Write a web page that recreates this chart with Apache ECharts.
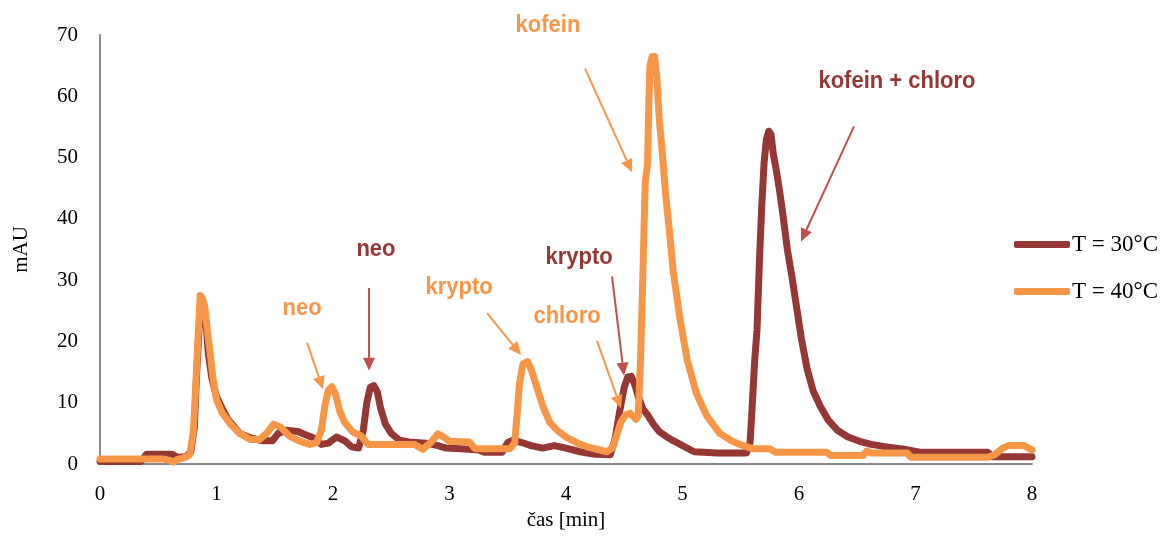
<!DOCTYPE html>
<html>
<head>
<meta charset="utf-8">
<script src="https://cdn.jsdelivr.net/npm/echarts@6/dist/echarts.min.js"></script>
<style>
  html, body { margin: 0; padding: 0; background: #fff; }
  #chart { width: 1165px; height: 536px; }
</style>
</head>
<body>
<div id="chart"></div>
<script>
// Chromatogram traces: time [min] and absorbance [mAU]
const time30 = [0, 0.35, 0.4, 0.62, 0.66, 0.74, 0.78, 0.81, 0.83, 0.85, 0.87, 0.89, 0.91, 0.93, 0.96, 1.0, 1.05, 1.1, 1.2, 1.3, 1.4, 1.48, 1.53, 1.6, 1.7, 1.76, 1.84, 1.9, 1.96, 2.03, 2.1, 2.16, 2.22, 2.26, 2.29, 2.32, 2.35, 2.38, 2.41, 2.45, 2.5, 2.57, 2.65, 2.8, 2.9, 2.97, 3.1, 3.25, 3.3, 3.45, 3.5, 3.55, 3.62, 3.7, 3.8, 3.9, 4.0, 4.12, 4.25, 4.38, 4.42, 4.46, 4.5, 4.53, 4.56, 4.59, 4.62, 4.66, 4.7, 4.75, 4.8, 4.86, 4.92, 5.0, 5.1, 5.3, 5.55, 5.58, 5.6, 5.62, 5.64, 5.66, 5.68, 5.7, 5.72, 5.74, 5.76, 5.78, 5.8, 5.83, 5.86, 5.9, 5.94, 5.98, 6.02, 6.07, 6.12, 6.18, 6.25, 6.33, 6.42, 6.52, 6.62, 6.75, 6.9, 7.05, 7.3, 7.62, 7.66, 8.0];
const mau30 = [0.4, 0.4, 1.6, 1.6, 1.1, 1.2, 2.0, 6, 15, 22, 26.5, 26, 23, 18, 14, 11, 9, 7.2, 5, 4.2, 3.8, 3.8, 5, 5.5, 5.3, 4.8, 4.2, 3.2, 3.4, 4.4, 3.8, 2.8, 2.6, 5.5, 10, 12.5, 12.8, 11.8, 9, 6.5, 5, 3.9, 3.6, 3.4, 3.0, 2.6, 2.5, 2.3, 1.9, 1.9, 3.5, 3.9, 3.5, 3.0, 2.6, 3.0, 2.6, 2.0, 1.6, 1.5, 4, 8.5, 12.5, 14.2, 14.3, 13, 11, 9, 8, 6.5, 5.3, 4.5, 3.8, 3.0, 2.0, 1.8, 1.8, 3.5, 10, 17, 22, 33, 42, 49, 53, 54.3, 53.8, 50.5, 48.5, 45, 41, 35, 30.5, 25.5, 20.5, 15.5, 12, 9.5, 7.2, 5.5, 4.4, 3.7, 3.2, 2.8, 2.4, 1.9, 1.9, 1.9, 1.2, 1.2];

const time40 = [0, 0.55, 0.6, 0.63, 0.66, 0.72, 0.77, 0.8, 0.82, 0.84, 0.86, 0.88, 0.9, 0.92, 0.94, 0.97, 1.0, 1.05, 1.12, 1.2, 1.29, 1.37, 1.43, 1.49, 1.55, 1.63, 1.72, 1.8, 1.86, 1.9, 1.93, 1.96, 1.99, 2.02, 2.06, 2.1, 2.17, 2.24, 2.3, 2.7, 2.77, 2.84, 2.9, 2.95, 3.0, 3.17, 3.22, 3.52, 3.56, 3.58, 3.6, 3.63, 3.67, 3.7, 3.75, 3.8, 3.86, 3.93, 4.0, 4.1, 4.18, 4.35, 4.4, 4.43, 4.47, 4.51, 4.55, 4.6, 4.62, 4.64, 4.66, 4.68, 4.7, 4.71, 4.72, 4.74, 4.76, 4.78, 4.8, 4.83, 4.86, 4.88, 4.92, 4.98, 5.04, 5.12, 5.21, 5.32, 5.42, 5.49, 5.6, 5.75, 5.8, 6.24, 6.27, 6.55, 6.58, 6.62, 6.93, 6.96, 7.62, 7.68, 7.75, 7.8, 7.93, 8.0];
const mau40 = [0.8, 0.8, 0.6, 0.3, 0.7, 1.0, 1.5, 5, 12, 20, 27.5, 27, 25.5, 22, 19, 14, 10.5, 8.3, 6.5, 5, 4, 4, 5, 6.5, 6, 4.5, 3.7, 3.2, 3.5, 5.5, 9.5, 12, 12.6, 11.5, 8.5, 6.8, 5.2, 4.6, 3.2, 3.2, 2.4, 3.5, 4.9, 4.4, 3.7, 3.6, 2.5, 2.5, 3.5, 8, 13, 16.3, 16.7, 15.5, 12.5, 9.5, 6.8, 5.4, 4.4, 3.4, 2.8, 2.0, 2.6, 4.4, 6.8, 8.0, 8.3, 7.3, 7.8, 17, 31, 46, 49, 58, 65, 66.5, 66.5, 63, 56.5, 50, 43, 39.5, 31.5, 23.5, 17, 11.5, 7.8, 5, 3.8, 3.2, 2.5, 2.5, 1.9, 1.9, 1.4, 1.4, 2.1, 1.8, 1.8, 1.1, 1.1, 1.5, 2.6, 3.0, 3.0, 2.3];

const seriesNames = ['T = 30°C', 'T = 40°C'];
const xTicks = [0, 1, 2, 3, 4, 5, 6, 7, 8];
const yTicks = [0, 10, 20, 30, 40, 50, 60, 70];

// Peak labels: text anchor and arrow (start -> tip), all in data units
const peakNames = ['kofein', 'kofein + chloro', 'neo', 'neo', 'krypto', 'chloro', 'krypto'];
const peakSeries = [1, 0, 0, 1, 1, 1, 0];
const labelAt = [[3.845, 71.6], [6.841, 62.4], [2.369, 35.0], [1.734, 25.4], [3.082, 28.8], [4.009, 24.1], [4.112, 33.7]];
const arrowFrom = [[4.163, 64.5], [6.472, 55.1], [2.309, 28.7], [1.777, 19.8], [3.322, 24.6], [4.266, 20.1], [4.395, 30.6]];
const arrowTo = [[4.567, 47.6], [6.017, 36.3], [2.309, 15.2], [1.914, 12.2], [3.614, 17.8], [4.472, 9.1], [4.498, 14.4]];

const DARK = '#953735';
const ORANGE = '#F79646';
const ARROW_RED = '#C0504D';
const textColor = [DARK, ORANGE];
const arrowColor = [ARROW_RED, ORANGE];

const pairs = (xs, ys) => xs.map((x, i) => [x, ys[i]]);

const chart = echarts.init(document.getElementById('chart'), null, { renderer: 'canvas' });

const serif = '"Liberation Serif", "Times New Roman", serif';

const option = {
  animation: false,
  backgroundColor: '#ffffff',
  grid: { left: 100, right: 133, top: 35, bottom: 69, containLabel: false },
  legend: {
    orient: 'vertical',
    left: 1009,
    top: 228,
    itemWidth: 56,
    itemHeight: 7,
    itemGap: 24,
    icon: 'roundRect',
    data: seriesNames,
    textStyle: { fontFamily: serif, fontSize: 23, color: '#000', padding: [0, 0, 0, -3] }
  },
  xAxis: {
    type: 'value',
    min: 0, max: 8, interval: 1,
    name: 'čas [min]',
    nameLocation: 'middle',
    nameGap: 46,
    nameTextStyle: { fontFamily: serif, fontSize: 21, color: '#000' },
    axisLine: { show: true, onZero: false, lineStyle: { color: '#888888', width: 2 } },
    axisTick: { show: false },
    splitLine: { show: false },
    axisLabel: {
      fontFamily: serif, fontSize: 21, color: '#000', margin: 20,
      customValues: xTicks,
      formatter: v => String(v)
    }
  },
  yAxis: {
    type: 'value',
    min: 0, max: 70, interval: 10,
    name: 'mAU',
    nameLocation: 'middle',
    nameGap: 68,
    nameTextStyle: { fontFamily: serif, fontSize: 21, color: '#000' },
    axisLine: { show: true, lineStyle: { color: '#888888', width: 2 } },
    axisTick: { show: false },
    splitLine: { show: false },
    axisLabel: {
      fontFamily: serif, fontSize: 21, color: '#000', margin: 22,
      customValues: yTicks,
      formatter: v => String(v)
    }
  },
  series: [
    {
      name: seriesNames[0],
      type: 'line',
      data: pairs(time30, mau30),
      symbol: 'none',
      clip: false,
      itemStyle: { color: DARK },
      lineStyle: { color: DARK, width: 7, cap: 'round', join: 'round' },
      z: 2
    },
    {
      name: seriesNames[1],
      type: 'line',
      data: pairs(time40, mau40),
      symbol: 'none',
      clip: false,
      itemStyle: { color: ORANGE },
      lineStyle: { color: ORANGE, width: 7, cap: 'round', join: 'round' },
      z: 3
    }
  ]
};

chart.setOption(option);

// Peak annotations: bold labels and straight arrows with triangular heads
const graphics = [];
peakNames.forEach((name, i) => {
  const s = peakSeries[i];
  const lp = chart.convertToPixel({ gridIndex: 0 }, labelAt[i]);
  const a = chart.convertToPixel({ gridIndex: 0 }, arrowFrom[i]);
  const b = chart.convertToPixel({ gridIndex: 0 }, arrowTo[i]);
  const dx = b[0] - a[0], dy = b[1] - a[1];
  const len = Math.sqrt(dx * dx + dy * dy);
  const ux = dx / len, uy = dy / len;
  const headLen = 13, headHalf = 6;
  const base = [b[0] - ux * headLen, b[1] - uy * headLen];
  graphics.push({
    type: 'text',
    x: lp[0], y: lp[1],
    scaleY: 1.12,
    style: {
      text: name,
      fill: textColor[s],
      font: 'bold 22px "Liberation Sans", Arial, sans-serif',
      align: 'center',
      verticalAlign: 'middle'
    },
    z: 10
  });
  graphics.push({
    type: 'line',
    shape: { x1: a[0], y1: a[1], x2: base[0], y2: base[1] },
    style: { stroke: arrowColor[s], lineWidth: 2 },
    z: 10
  });
  graphics.push({
    type: 'polygon',
    shape: {
      points: [
        b,
        [base[0] - uy * headHalf, base[1] + ux * headHalf],
        [base[0] + uy * headHalf, base[1] - ux * headHalf]
      ]
    },
    style: { fill: arrowColor[s] },
    z: 10
  });
});
chart.setOption({ graphic: graphics });
</script>
</body>
</html>
